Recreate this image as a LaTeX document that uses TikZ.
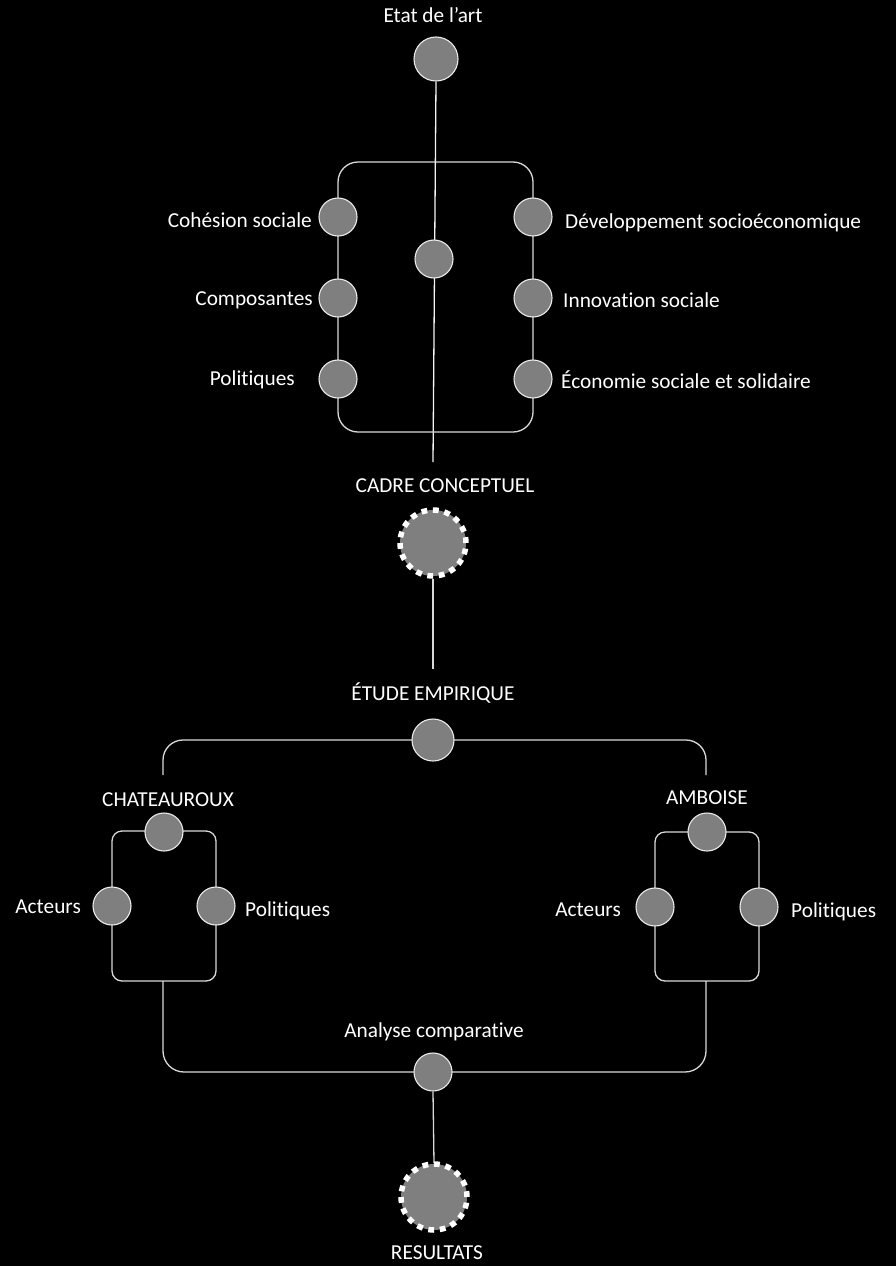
\documentclass[tikz,border=0pt]{standalone}
\usepackage{fontspec}
\setmainfont{Carlito}[Ligatures=NoCommon]
\definecolor{nodegray}{HTML}{7F7F7F}
\definecolor{linec}{HTML}{D9D9D9}
\begin{document}
\begin{tikzpicture}[x=1pt,y=-1pt,
  lin/.style={draw=linec, line width=1.3pt},
  dotnode/.style={circle, fill=nodegray, draw=white!92!black, line width=1.1pt, minimum size=38pt, inner sep=0pt},
  bigdot/.style={circle, fill=nodegray, draw=white, line width=5.5pt, dash pattern=on 5.8pt off 5.72pt, minimum size=66pt, inner sep=0pt},
  lbl/.style={text=white, font=\fontsize{21.3}{25}\selectfont, inner sep=0pt}]
\fill[black] (0,0) rectangle (896,1266);
\useasboundingbox (0,0) rectangle (896,1266);

% ---- upper part ----
\coordinate (topend) at (433,462);
\node[dotnode, minimum size=44pt] (etat) at (436,59) {};
\draw[lin, draw=white!96!black] (etat.south) -- (topend);
\node[dotnode] (mid) at (434,259) {};

\draw[lin, rounded corners=20pt] (338,162) rectangle (533,432);
\node[dotnode] (l1) at (338,217) {};
\node[dotnode] (l2) at (338,298) {};
\node[dotnode] (l3) at (338,379) {};
\node[dotnode] (r1) at (533,217) {};
\node[dotnode] (r2) at (533,298) {};
\node[dotnode] (r3) at (533,379) {};

\node[lbl, anchor=base] (tetat) at (433,23) {Etat de l’art};
\node[lbl, anchor=base east] (tl1) at (312,227) {Cohésion sociale};
\node[lbl, anchor=base east] (tl2) at (313,305) {Composantes};
\node[lbl, anchor=base east] (tl3) at (295,385) {Politiques};
\node[lbl, anchor=base west] (tr1) at (565,228) {Développement socioéconomique};
\node[lbl, anchor=base west] (tr2) at (563,307) {Innovation sociale};
\node[lbl, anchor=base west] (tr3) at (561,388) {Économie sociale et solidaire};

% ---- cadre conceptuel ----
\node[lbl, anchor=base] (tcadre) at (445,492) {CADRE CONCEPTUEL};
\coordinate (etudetop) at (433,669);
\node[bigdot] (cadre) at (433,543) {};
\draw[lin] (cadre.south) -- (etudetop);

% ---- etude empirique ----
\node[lbl, anchor=base] (tetude) at (433,700) {ÉTUDE EMPIRIQUE};
\coordinate (bl) at (163,775);
\coordinate (br) at (706,775);
\draw[lin, rounded corners=20pt] (bl) -- (163,740) -- (706,740) -- (br);
\node[dotnode, minimum size=42pt] (etude) at (433,740) {};

% Chateauroux
\node[lbl, anchor=base] (tchat) at (168,806) {CHATEAUROUX};
\draw[lin, rounded corners=10pt] (112,831) rectangle (216,981);
\node[dotnode] (chtop) at (164,832) {};
\node[dotnode] (chact) at (112,906) {};
\node[dotnode] (chpol) at (216,906) {};
\node[lbl, anchor=base east] (tchact) at (81,913) {Acteurs};
\node[lbl, anchor=base west] (tchpol) at (245,916) {Politiques};

% Amboise
\node[lbl, anchor=base] (tamb) at (707,804) {AMBOISE};
\draw[lin, rounded corners=10pt] (655,832) rectangle (759,981);
\node[dotnode] (amtop) at (707,832) {};
\node[dotnode] (amact) at (655,907) {};
\node[dotnode] (ampol) at (759,907) {};
\node[lbl, anchor=base east] (tamact) at (621,916) {Acteurs};
\node[lbl, anchor=base west] (tampol) at (791,917) {Politiques};

% ---- analyse comparative ----
\coordinate (chbot) at (163,981);
\coordinate (ambot) at (706,981);
\draw[lin, rounded corners=21pt] (chbot) -- (163,1072) -- (706,1072) -- (ambot);
\node[lbl, anchor=base] (tana) at (434,1037) {Analyse comparative};
\coordinate (restop) at (434,1163);
\node[dotnode] (ana) at (433,1072) {};
\draw[lin] (ana.south) -- (restop);
\node[bigdot] (res) at (434,1197) {};
\node[lbl, anchor=base] (tres) at (437,1259) {RESULTATS};
\end{tikzpicture}
\end{document}
